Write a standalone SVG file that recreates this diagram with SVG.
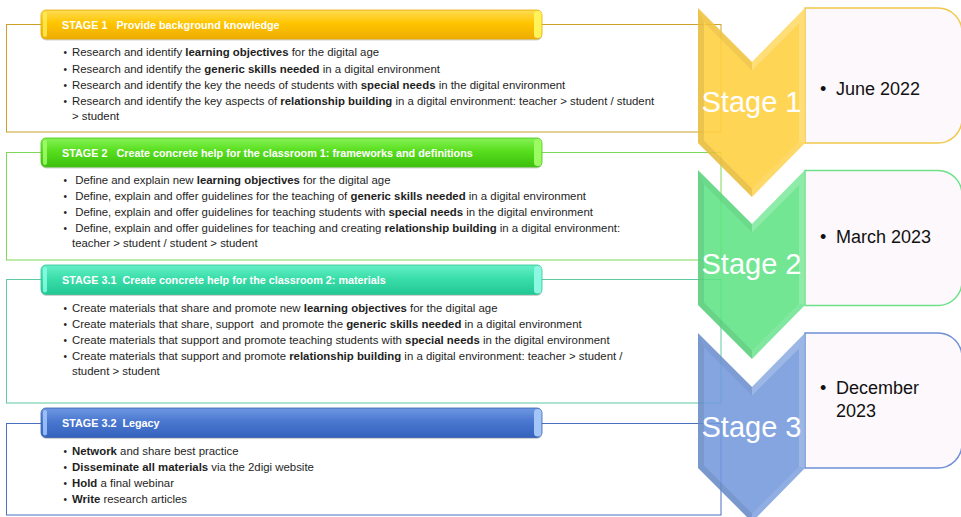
<svg xmlns="http://www.w3.org/2000/svg" xmlns:xlink="http://www.w3.org/1999/xlink" width="961" height="517" viewBox="0 0 961 517">
  <defs>
    <style>
      text { font-family: "Liberation Sans", Arial, sans-serif; white-space: pre; }
      .body { font-size: 11.4px; fill: #1e1e1e; }
      .b { font-weight: bold; }
      .bul { font-size: 10px; fill: #1e1e1e; }
      .head { font-size: 10.8px; font-weight: bold; fill: #ffffff; }
      .frame { fill: none; stroke-width: 1; }
      .chev-label { font-size: 29px; fill: #ffffff; text-anchor: middle; }
      .date { font-size: 18px; fill: #111111; }
      .datebox { fill: #fdf8fc; stroke-width: 1.5; }
      .shade { fill: #000000; }
      .light { fill: #ffffff; }
    </style>
    <linearGradient id="gGold" x1="0" y1="0" x2="0" y2="1">
      <stop offset="0" stop-color="#ffdc55"/>
      <stop offset="0.45" stop-color="#ffc500"/>
      <stop offset="1" stop-color="#eeac00"/>
    </linearGradient>
    <linearGradient id="gGreen" x1="0" y1="0" x2="0" y2="1">
      <stop offset="0" stop-color="#85f254"/>
      <stop offset="0.45" stop-color="#58de1e"/>
      <stop offset="1" stop-color="#3cc00e"/>
    </linearGradient>
    <linearGradient id="gTeal" x1="0" y1="0" x2="0" y2="1">
      <stop offset="0" stop-color="#66f0c8"/>
      <stop offset="0.45" stop-color="#3adea9"/>
      <stop offset="1" stop-color="#22c794"/>
    </linearGradient>
    <linearGradient id="gBlue" x1="0" y1="0" x2="0" y2="1">
      <stop offset="0" stop-color="#6e98e2"/>
      <stop offset="0.45" stop-color="#4a78d0"/>
      <stop offset="1" stop-color="#3462be"/>
    </linearGradient>
    <!-- chevron outline (top notch, bottom point) -->
    <polygon id="chev" points="698,8 752,62 805,8 805,143 752,197 698,143"/>
    <!-- bevel bands shared by all chevrons -->
    <g id="bevel">
      <polygon class="shade" opacity="0.08" points="698,8 704,22.5 704,140.5 698,143"/>
      <polygon class="shade" opacity="0.05" points="698,8 752,62 752,70.5 704,22.5"/>
      <polygon class="light" opacity="0.20" points="752,62 805,8 799,23.5 752,70.5"/>
      <polygon class="light" opacity="0.20" points="805,8 805,143 799,141.5 799,23.5"/>
      <polygon class="light" opacity="0.10" points="805,143 752,197 752,188.5 799,141.5"/>
      <polygon class="shade" opacity="0.08" points="752,197 698,143 704,140.5 752,188.5"/>
    </g>
    <!-- date panel: square left corners, rounded right corners -->
    <path id="datePanel" d="M805,8 H938 A24,24 0 0 1 962,32 V119 A24,24 0 0 1 938,143 H805 Z"/>
  </defs>

  <rect width="961" height="517" fill="#ffffff"/>

  <!-- connectors: outlines of the stage panels -->
  <g id="connectors">
    <rect class="frame" x="6.5" y="24.5" width="714.5" height="107.5" stroke="#cda22a"/>
    <rect class="frame" x="6.5" y="152.5" width="714.5" height="107.5" stroke="#7fd858"/>
    <rect class="frame" x="6.5" y="279.5" width="714.5" height="123.5" stroke="#5fc9a0"/>
    <rect class="frame" x="6.5" y="423.5" width="714.5" height="91.5" stroke="#4a6fc0"/>
  </g>

  <!-- Stage 1 -->
  <g id="stage1">
    <rect x="41" y="11.5" width="501" height="29" rx="5" fill="#000" opacity="0.18"/>
    <rect x="41" y="10" width="501" height="29" rx="5" fill="url(#gGold)" stroke="#e3a900" stroke-width="0.8"/>
    <rect x="43" y="12" width="4" height="25" rx="2" fill="#ffec5a" opacity="0.8"/>
    <rect x="534" y="11" width="7.5" height="27" rx="3.5" fill="#fff35c"/>
    <text class="head" x="62" y="28.5">STAGE 1   Provide background knowledge</text>
    <text class="bul" x="63.5" y="56">•</text>
    <text class="body" x="72" y="56">Research and identify <tspan class="b">learning objectives</tspan> for the digital age</text>
    <text class="bul" x="63.5" y="73">•</text>
    <text class="body" x="72" y="73">Research and identify the <tspan class="b">generic skills needed</tspan> in a digital environment</text>
    <text class="bul" x="63.5" y="89">•</text>
    <text class="body" x="72" y="89">Research and identify the key the needs of students with <tspan class="b">special needs</tspan> in the digital environment</text>
    <text class="bul" x="63.5" y="105">•</text>
    <text class="body" x="72" y="105">Research and identify the key aspects of <tspan class="b">relationship building</tspan> in a digital environment: teacher &gt; student / student</text>
    <text class="body" x="72" y="119.5">&gt; student</text>
  </g>

  <!-- Stage 2 -->
  <g id="stage2">
    <rect x="41" y="139.5" width="501" height="29" rx="5" fill="#000" opacity="0.18"/>
    <rect x="41" y="138" width="501" height="29" rx="5" fill="url(#gGreen)" stroke="#48c21c" stroke-width="0.8"/>
    <rect x="43" y="140" width="4" height="25" rx="2" fill="#a6ff6e" opacity="0.8"/>
    <rect x="534" y="139" width="7.5" height="27" rx="3.5" fill="#9dfb62"/>
    <text class="head" x="62" y="156.5">STAGE 2   Create concrete help for the classroom 1: frameworks and definitions</text>
    <text class="bul" x="63.5" y="184">•</text>
    <text class="body" x="72" y="184"> Define and explain new <tspan class="b">learning objectives</tspan> for the digital age</text>
    <text class="bul" x="63.5" y="200">•</text>
    <text class="body" x="72" y="200"> Define, explain and offer guidelines for the teaching of <tspan class="b">generic skills needed</tspan> in a digital environment</text>
    <text class="bul" x="63.5" y="216">•</text>
    <text class="body" x="72" y="216"> Define, explain and offer guidelines for teaching students with <tspan class="b">special needs</tspan> in the digital environment</text>
    <text class="bul" x="63.5" y="232">•</text>
    <text class="body" x="72" y="232"> Define, explain and offer guidelines for teaching and creating <tspan class="b">relationship building</tspan> in a digital environment:</text>
    <text class="body" x="72" y="246.5">teacher &gt; student / student &gt; student</text>
  </g>

  <!-- Stage 3.1 -->
  <g id="stage31">
    <rect x="41" y="266.5" width="501" height="29.5" rx="5" fill="#000" opacity="0.18"/>
    <rect x="41" y="265" width="501" height="29.5" rx="5" fill="url(#gTeal)" stroke="#31c193" stroke-width="0.8"/>
    <rect x="43" y="267" width="4" height="25.5" rx="2" fill="#8fffe6" opacity="0.8"/>
    <rect x="534" y="266" width="7.5" height="27.5" rx="3.5" fill="#8cf8e2"/>
    <text class="head" x="62" y="284">STAGE 3.1  Create concrete help for the classroom 2: materials</text>
    <text class="bul" x="63.5" y="312">•</text>
    <text class="body" x="72" y="312">Create materials that share and promote new <tspan class="b">learning objectives</tspan> for the digital age</text>
    <text class="bul" x="63.5" y="328">•</text>
    <text class="body" x="72" y="328">Create materials that share, support  and promote the <tspan class="b">generic skills needed</tspan> in a digital environment</text>
    <text class="bul" x="63.5" y="344">•</text>
    <text class="body" x="72" y="344">Create materials that support and promote teaching students with <tspan class="b">special needs</tspan> in the digital environment</text>
    <text class="bul" x="63.5" y="360">•</text>
    <text class="body" x="72" y="360">Create materials that support and promote <tspan class="b">relationship building</tspan> in a digital environment: teacher &gt; student /</text>
    <text class="body" x="72" y="374.5">student &gt; student</text>
  </g>

  <!-- Stage 3.2 -->
  <g id="stage32">
    <rect x="41" y="409.5" width="501" height="29.5" rx="5" fill="#000" opacity="0.18"/>
    <rect x="41" y="408" width="501" height="29.5" rx="5" fill="url(#gBlue)" stroke="#3a62b0" stroke-width="0.8"/>
    <rect x="43" y="410" width="4" height="25.5" rx="2" fill="#a9ccff" opacity="0.8"/>
    <rect x="534" y="409" width="7.5" height="27.5" rx="3.5" fill="#a4c6f6"/>
    <text class="head" x="62" y="427">STAGE 3.2  Legacy</text>
    <text class="bul" x="63.5" y="455">•</text>
    <text class="body" x="72" y="455"><tspan class="b">Network</tspan> and share best practice</text>
    <text class="bul" x="63.5" y="471">•</text>
    <text class="body" x="72" y="471"><tspan class="b">Disseminate all materials</tspan> via the 2digi website</text>
    <text class="bul" x="63.5" y="487">•</text>
    <text class="body" x="72" y="487"><tspan class="b">Hold</tspan> a final webinar</text>
    <text class="bul" x="63.5" y="503">•</text>
    <text class="body" x="72" y="503"><tspan class="b">Write</tspan> research articles</text>
  </g>

  <!-- Timeline: date panels -->
  <g id="date1">
    <use href="#datePanel" class="datebox" stroke="#f0c84a"/>
    <text class="date" x="820" y="95">•</text>
    <text class="date" x="836" y="95">June 2022</text>
  </g>
  <g id="date2">
    <use href="#datePanel" class="datebox" stroke="#6ee08a" transform="translate(0,162.5)"/>
    <text class="date" x="820" y="243">•</text>
    <text class="date" x="836" y="243">March 2023</text>
  </g>
  <g id="date3">
    <use href="#datePanel" class="datebox" stroke="#6e8fd8" transform="translate(0,325)"/>
    <text class="date" x="820" y="394">•</text>
    <text class="date" x="836" y="394">December</text>
    <text class="date" x="836" y="417">2023</text>
  </g>

  <!-- Timeline: chevrons -->
  <g id="chevron1">
    <use href="#chev" fill="#ffcf3f" opacity="0.88"/>
    <use href="#bevel"/>
    <text class="chev-label" x="751.5" y="112">Stage 1</text>
  </g>
  <g id="chevron2" transform="translate(0,162)">
    <use href="#chev" fill="#5ee384" opacity="0.88"/>
    <use href="#bevel"/>
    <text class="chev-label" x="751.5" y="112">Stage 2</text>
  </g>
  <g id="chevron3" transform="translate(0,325)">
    <use href="#chev" fill="#7398dc" opacity="0.88"/>
    <use href="#bevel"/>
    <text class="chev-label" x="751.5" y="112">Stage 3</text>
  </g>
</svg>
